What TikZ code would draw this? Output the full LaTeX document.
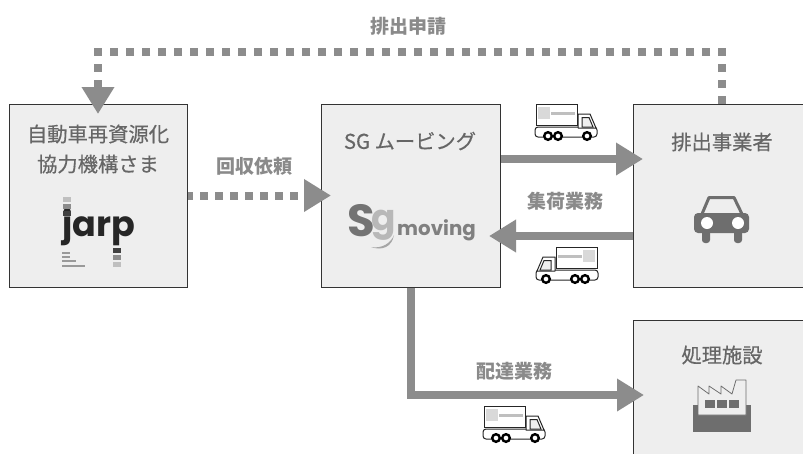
\documentclass[tikz,border=0pt]{standalone}
\usepackage{fontspec}
\setmainfont{Noto Sans CJK JP}
\newfontfamily\titlefont[FakeBold=0.5]{Noto Sans CJK JP}
\newfontfamily\logofont{Poppins}
\usetikzlibrary{arrows.meta}
\definecolor{boxfill}{HTML}{EEEEEE}
\definecolor{boxline}{HTML}{333333}
\definecolor{flow}{HTML}{8C8C8C}
\definecolor{titletext}{HTML}{666666}
\definecolor{labeltext}{HTML}{8A8A8A}
\definecolor{icon}{HTML}{6E6E6E}
\tikzset{
  party/.style={draw=boxline,fill=boxfill,line width=1pt,anchor=north west,inner sep=0pt},
  titletxt/.style={text=titletext,font=\titlefont\fontsize{20.3}{24}\selectfont,inner sep=0pt,align=center},
  labeltxt/.style={text=labeltext,font=\fontsize{19}{22}\selectfont\bfseries,inner sep=0pt},
  solidflow/.style={draw=flow,line width=8pt,-{Triangle[length=27pt,width=31pt]}},
  dotflow/.style={draw=flow,line width=8pt,-{Triangle[length=27pt,width=31pt]}},
  truckline/.style={draw=black!85,line width=1pt,fill=white},
  truck/.pic={
    \draw[truckline,rounded corners=3pt] (-1,23) rectangle (61,33);
    \draw[truckline,line join=round] (42,10) -- (54,10) -- (60,24) -- (42,24) -- cycle;
    \draw[truckline,fill=boxfill] (46,13.5) -- (53,13.5) -- (57,23) -- (46,23) -- cycle;
    \draw[truckline] (0,0) rectangle (41,21);
    \fill[gray!30] (2,3) rectangle (14,15);
    \fill[gray!50] (15,8) rectangle (39,11);
    \foreach \wx in {12,22,51}{\draw[draw=black,line width=2.4pt,fill=white] (\wx,32) circle (3.8);}
  }
}
\begin{document}
\begin{tikzpicture}[x=1pt,y=-1pt]
\useasboundingbox (0,0) rectangle (803,453);
\clip (0,0) rectangle (803,453);
\fill[white] (0,0) rectangle (803,453);
% boxes
\node[party,minimum width=178pt,minimum height=183pt] (jarp) at (9,104) {};
\node[party,minimum width=179pt,minimum height=183pt] (sg) at (321,104) {};
\node[party,minimum width=190pt,minimum height=183pt] (emit) at (633,104) {};
\node[party,minimum width=190pt,minimum height=150pt] (plant) at (633,320) {};
% titles
\node[titletxt] (t1) at (98,149) {自動車再資源化\\[6pt]協力機構さま};
\node[titletxt] (t2) at (410,141) {SG ムービング};
\node[titletxt] (t3) at (722,142) {排出事業者};
\node[titletxt] (t4) at (722,355) {処理施設};
% labels
\node[labeltxt] (l1) at (408.5,26) {排出申請};
\node[labeltxt] (l2) at (254.5,166) {回収依頼};
\node[labeltxt] (l3) at (565.5,201) {集荷業務};
\node[labeltxt] (l4) at (514.5,371) {配達業務};
% connectors
\coordinate (c1) at (722,52);
\coordinate (c2) at (98,52);
\draw[dotflow,dash pattern=on 8pt off 8pt,shorten >=-10pt] ([xshift=89pt]emit.north west) -- (c1) -- (c2) -- ([xshift=89pt]jarp.north west);
\draw[dotflow,dash pattern=on 8pt off 7pt,dash phase=3pt,shorten >=-10pt] ([yshift=-91.5pt]jarp.north east) -- ([yshift=-91.5pt]sg.north west);
\draw[solidflow,shorten >=-10pt] ([yshift=-55pt]sg.north east) -- ([yshift=-55pt]emit.north west);
\draw[solidflow,shorten >=-12pt] ([yshift=-132pt]emit.north west) -- ([yshift=-132pt]sg.north east);
\coordinate (c3) at (411,395);
\draw[solidflow,shorten >=-11pt] ([xshift=90pt]sg.south west) -- (c3) -- (plant.west |- c3);
% trucks
\pic at (536,104) {truck};
\pic[xscale=-1] at (597,247) {truck};
\pic at (484,406) {truck};
% jarp logo
\node[inner sep=0pt,text=black!85,font=\logofont\fontsize{35}{35}\selectfont\bfseries] (jlogo) at (98.5,227) {jarp};
\foreach \sy/\sc in {197/25,204/45,211/75}{\fill[black!\sc] (63,\sy) rectangle (71,\sy+5);}
\foreach \sy/\sc in {248/75,255/45,262/25}{\fill[black!\sc] (113,\sy) rectangle (121,\sy+5);}
\foreach \sy/\sw in {252/8,256/8,260/14,265/23}{\fill[black!40] (62,\sy) rectangle (62+\sw,\sy+2);}
% sg logo
\node[inner sep=0pt,text=black!55,font=\logofont\fontsize{45}{45}\selectfont\bfseries] (slogo) at (361,221) {S};
\node[inner sep=0pt,text=black!28,font=\logofont\fontsize{36}{36}\selectfont\bfseries] (glogo) at (384,225) {g};
\fill[black!35] (371,247) .. controls (382,249) and (391,243) .. (394,235) .. controls (392,247) and (382,251) .. (371,247);
\node[inner sep=0pt,text=black!50,font=\logofont\fontsize{19.8}{22}\selectfont\bfseries] (mlogo) at (436.5,230) {moving};
% car icon
\draw[icon,line width=3pt,line join=round] (702,214) -- (709,197.5) -- (734,197.5) -- (742,214);
\fill[icon,rounded corners=4pt] (694,213) rectangle (749,233);
\fill[icon,rounded corners=3pt] (702,228) rectangle (710,243);
\fill[icon,rounded corners=3pt] (734,228) rectangle (742,243);
\fill[white] (707,223) circle (6);
\fill[white] (738,223) circle (6);
% factory icon
\fill[icon] (693,405) rectangle (751,432);
\filldraw[fill=boxfill,draw=icon,line width=.8pt,line join=round] (698,386) -- (709,394) -- (709,386) -- (721,394) -- (721,386) -- (732,394) -- (736,380) -- (746,380) -- (746,415) -- (698,415) -- cycle;
\fill[icon] (705,400) rectangle (715,408);
\fill[icon] (717,400) rectangle (727,408);
\fill[icon] (729,400) rectangle (739,408);
\end{tikzpicture}
\end{document}
